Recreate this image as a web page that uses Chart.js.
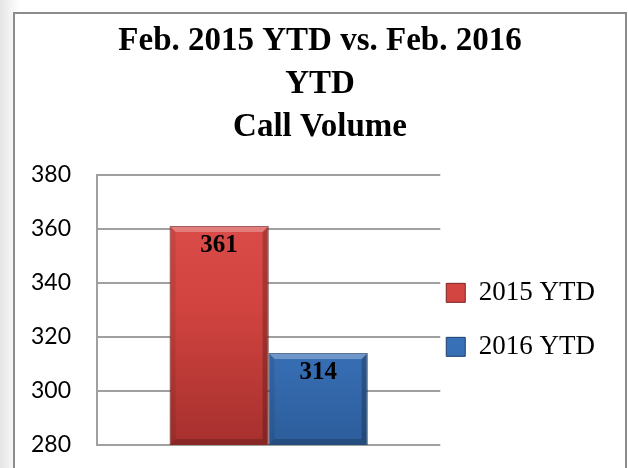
<!DOCTYPE html>
<html>
<head>
<meta charset="utf-8">
<script src="https://cdn.jsdelivr.net/npm/chart.js@4.4.0/dist/chart.umd.min.js"></script>
<style>
  html, body { margin: 0; padding: 0; }
  body {
    width: 628px; height: 468px; overflow: hidden; position: relative;
    background: linear-gradient(to right, #e4e4e4 0px, #f7f7f7 13px, #ffffff 20px);
  }
  #frame {
    position: absolute; left: 13px; top: 12px; width: 610px; height: 470px;
    border: 2px solid #8c8c8c; background: #fff;
  }
  #wrap { position: absolute; left: 0; top: 0; width: 628px; height: 468px; }
</style>
</head>
<body>
<div id="frame"></div>
<div id="wrap"><canvas id="chart" width="628" height="468"></canvas></div>
<script>
// Chart data
const titleLines = ["Feb. 2015 YTD vs. Feb. 2016", "YTD", "Call Volume"];
const categories = [""];
const seriesNames = ["2015 YTD", "2016 YTD"];
const values2015 = [361];
const values2016 = [314];
const yMin = 280, yMax = 380, yStep = 20;

const serif = "'Liberation Serif', 'Times New Roman', serif";

// gradient fill for bars (top -> bottom)
function barFill(top, mid, bottom) {
    return function (context) {
        const chart = context.chart;
        const area = chart.chartArea;
        if (!area) return mid;
        const g = chart.ctx.createLinearGradient(0, area.top, 0, area.bottom);
        g.addColorStop(0, top);
        g.addColorStop(0.5, mid);
        g.addColorStop(1, bottom);
        return g;
    };
}

// move legend closer to the plot and a bit lower, like the original
const legendShift = {
    id: 'legendShift',
    afterLayout(chart) {
        const lg = chart.legend;
        if (!lg) return;
        lg.left -= 21;
        lg.right -= 21;
        lg.top += 10;
        lg.bottom += 10;
    }
};

// bevel edges and value labels on each bar
const barDecor = {
    id: 'barDecor',
    afterDatasetsDraw(chart) {
        const ctx = chart.ctx;
        const area = chart.chartArea;
        chart.data.datasets.forEach((ds, di) => {
            const meta = chart.getDatasetMeta(di);
            meta.data.forEach((bar, i) => {
                const left = bar.x - bar.width / 2, right = bar.x + bar.width / 2;
                const top = bar.y, bottom = Math.min(bar.base, area.bottom);
                const b = 6;
                ctx.save();
                // top bevel (light)
                ctx.fillStyle = 'rgba(255,255,255,0.28)';
                ctx.beginPath();
                ctx.moveTo(left, top); ctx.lineTo(right, top);
                ctx.lineTo(right - b, top + b); ctx.lineTo(left + b, top + b);
                ctx.closePath(); ctx.fill();
                // right bevel (dark)
                ctx.fillStyle = 'rgba(0,0,0,0.22)';
                ctx.beginPath();
                ctx.moveTo(right, top); ctx.lineTo(right, bottom);
                ctx.lineTo(right - b, bottom - b); ctx.lineTo(right - b, top + b);
                ctx.closePath(); ctx.fill();
                // bottom bevel (dark)
                ctx.fillStyle = 'rgba(0,0,0,0.18)';
                ctx.beginPath();
                ctx.moveTo(left, bottom); ctx.lineTo(right, bottom);
                ctx.lineTo(right - b, bottom - b); ctx.lineTo(left + b, bottom - b);
                ctx.closePath(); ctx.fill();
                // left bevel (slightly dark)
                ctx.fillStyle = 'rgba(0,0,0,0.08)';
                ctx.beginPath();
                ctx.moveTo(left, top); ctx.lineTo(left + b, top + b);
                ctx.lineTo(left + b, bottom - b); ctx.lineTo(left, bottom);
                ctx.closePath(); ctx.fill();
                // value label
                ctx.fillStyle = '#000';
                ctx.font = "bold 25px " + serif;
                ctx.textAlign = 'center';
                ctx.textBaseline = 'top';
                ctx.fillText(String(ds.data[i]), bar.x, top + 7);
                ctx.restore();
            });
        });
    }
};

new Chart(document.getElementById('chart'), {
    type: 'bar',
    data: {
        labels: categories,
        datasets: [
            {
                label: seriesNames[0],
                data: values2015,
                backgroundColor: barFill('#e0514e', '#d0433f', '#a6302e'),
                borderColor: '#7e2220',
                borderWidth: 1,
                categoryPercentage: 0.577,
                barPercentage: 1
            },
            {
                label: seriesNames[1],
                data: values2016,
                backgroundColor: barFill('#4f8fd8', '#3d77c1', '#2c5d9b'),
                borderColor: '#1d3f6c',
                borderWidth: 1,
                categoryPercentage: 0.577,
                barPercentage: 1
            }
        ]
    },
    options: {
        responsive: false,
        animation: false,
        layout: { padding: { left: 14, right: 2, top: 20, bottom: 23 } },
        scales: {
            x: { display: false },
            y: {
                min: yMin, max: yMax,
                ticks: {
                    stepSize: yStep, padding: 26, color: '#000',
                    font: { family: 'Lato', size: 23 }
                },
                grid: { color: '#a0a0a0', lineWidth: 2, drawTicks: false },
                border: { color: '#a0a0a0', width: 2 },
                afterFit(scale) {
                    scale.width = 83;
                    scale.paddingTop = 0;
                    scale.paddingBottom = 0;
                }
            }
        },
        plugins: {
            title: {
                display: true,
                text: titleLines,
                color: '#000',
                font: { family: serif, size: 33, weight: 'bold', lineHeight: 1.3 },
                padding: { top: 0, bottom: 26 }
            },
            legend: {
                position: 'right',
                fullSize: false,
                maxWidth: 188,
                labels: {
                    color: '#000',
                    boxWidth: 19, boxHeight: 19,
                    padding: 27,
                    font: { family: serif, size: 27 }
                }
            },
            tooltip: { enabled: false }
        }
    },
    plugins: [barDecor, legendShift]
});
</script>
</body>
</html>
